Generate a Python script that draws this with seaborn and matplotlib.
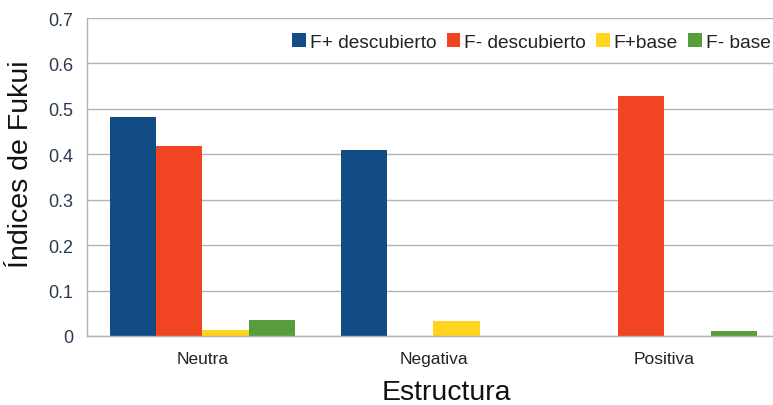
import matplotlib
matplotlib.use("Agg")
import matplotlib.pyplot as plt
import seaborn as sns
import pandas as pd
from matplotlib.ticker import FixedLocator

# Fukui indices per structure and descriptor
estructuras = ["Neutra", "Negativa", "Positiva"]
series = ["F+ descubierto", "F- descubierto", "F+base", "F- base"]
f_mas_desc = [0.482, 0.410, 0.0]
f_menos_desc = [0.418, 0.0, 0.528]
f_mas_base = [0.013, 0.033, 0.0]
f_menos_base = [0.035, 0.0, 0.010]
colores = ["#114c86", "#f04422", "#ffd320", "#579d3c"]
y_ticks = [0.0, 0.1, 0.2, 0.3, 0.4, 0.5, 0.6, 0.7]
y_labels = ["0", "0.1", "0.2", "0.3", "0.4", "0.5", "0.6", "0.7"]

rows = []
for nombre, vals in zip(series, [f_mas_desc, f_menos_desc, f_mas_base, f_menos_base]):
    for est, v in zip(estructuras, vals):
        rows.append({"Estructura": est, "Serie": nombre, "Valor": v})
df = pd.DataFrame(rows)

sns.set_theme(style="white")
plt.rcParams["font.family"] = ["Liberation Sans", "DejaVu Sans"]

fig = plt.figure(figsize=(7.73, 4.06), dpi=100)
# plot area runs slightly past the right edge of the canvas
ax = fig.add_axes([0.1125, 0.17, 0.8965, 0.783])

sns.barplot(data=df, x="Estructura", y="Valor", hue="Serie", order=estructuras,
            hue_order=series, palette=colores, width=0.8, linewidth=0,
            saturation=1, ax=ax)

ax.set_ylim(0, 0.7)
ax.set_xlim(-0.5, 2.5)
ax.set_yticks(y_ticks)
ax.set_yticklabels(y_labels)
ax.yaxis.grid(True, color="#b3b3b3", linewidth=1)
ax.set_axisbelow(True)

# category boundary ticks on the x axis
ax.xaxis.set_minor_locator(FixedLocator([-0.5, 0.5, 1.5, 2.5]))
ax.tick_params(axis="x", which="major", length=0, labelsize=12.5,
               labelcolor="#222222", pad=11)
ax.tick_params(axis="x", which="minor", length=7, color="#b3b3b3", width=1,
               direction="out")
ax.tick_params(axis="y", length=6, color="#b3b3b3", width=1, direction="out",
               labelsize=13, labelcolor="#2a3a50", pad=4)

for s in ["top", "right"]:
    ax.spines[s].set_visible(False)
for s in ["left", "bottom"]:
    ax.spines[s].set_color("#b3b3b3")
    ax.spines[s].set_linewidth(1)

ax.set_xlabel("Estructura", fontsize=20.5, color="#111111")
ax.set_ylabel("Índices de Fukui", fontsize=20.5, color="#111111")
ax.xaxis.set_label_coords(0.518, -0.135)
ax.yaxis.set_label_coords(-0.077, 0.544)

leg = ax.legend(loc="center right", bbox_to_anchor=(0.9975, 0.925), ncol=4,
                frameon=False, fontsize=13.8, handlelength=0.7,
                handleheight=0.7, handletextpad=0.2, columnspacing=0.55,
                borderaxespad=0.0)
for t in leg.get_texts():
    t.set_color("#222222")

fig.savefig("out.png", dpi=100)
